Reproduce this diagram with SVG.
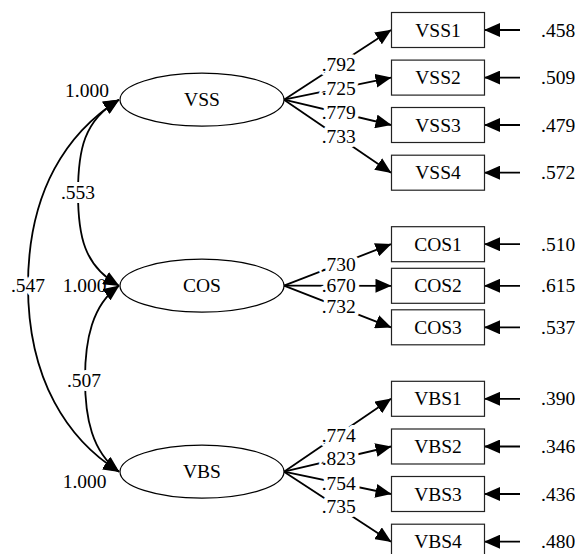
<svg xmlns="http://www.w3.org/2000/svg" width="575" height="554" viewBox="0 0 575 554" font-family="'Liberation Serif', 'Times New Roman', 'DejaVu Serif', serif" font-size="19.5">
<style>
text{font-family:'Liberation Serif','Times New Roman','DejaVu Serif',serif;font-size:19.5px;fill:#000}
.lat{fill:#fff;stroke:#000;stroke-width:1.2}
.obs{fill:#fff;stroke:#222;stroke-width:1.2}
.c{fill:none;stroke:#000;stroke-width:1.8}
.a{marker-end:url(#ah)}
.b{marker-start:url(#ah);marker-end:url(#ah)}
.lab{stroke:#fff;stroke-width:8;stroke-linejoin:round;paint-order:stroke}
.m{text-anchor:middle}
</style>
<defs>
<marker id="ah" viewBox="0 0 16 14" refX="15.5" refY="7" markerWidth="16" markerHeight="14" markerUnits="userSpaceOnUse" orient="auto-start-reverse">
<path d="M0,0 L16,7 L0,14 Z" fill="#000"/>
</marker>
</defs>
<g id="variances">
<text x="65" y="97">1.000</text>
<text x="62.7" y="292.3">1.000</text>
<text x="62.7" y="488.3">1.000</text>
</g>
<g id="connectors">
<path class="c b" d="M119,99.7 C84,120 78,150 78,192.7 C78,236 84,266 119,285.7"/>
<path class="c b" d="M119,99.7 C68,132 28,190 28,285.7 C28,380 68,440 119,471.7"/>
<path class="c b" d="M119,285.7 C92,305 85,340 85,378.7 C85,418 92,452 119,471.7"/>
<line class="c a" x1="284" y1="99.7" x2="391" y2="30"/>
<line class="c a" x1="284" y1="99.7" x2="391" y2="77.6"/>
<line class="c a" x1="284" y1="99.7" x2="391" y2="125"/>
<line class="c a" x1="284" y1="99.7" x2="391" y2="172.7"/>
<line class="c a" x1="284" y1="285.7" x2="391" y2="244.2"/>
<line class="c a" x1="284" y1="285.7" x2="391" y2="285.8"/>
<line class="c a" x1="284" y1="285.7" x2="391" y2="327.3"/>
<line class="c a" x1="284" y1="471.7" x2="391" y2="398.8"/>
<line class="c a" x1="284" y1="471.7" x2="391" y2="446.5"/>
<line class="c a" x1="284" y1="471.7" x2="391" y2="494"/>
<line class="c a" x1="284" y1="471.7" x2="391" y2="541.7"/>
<line class="c a" x1="520" y1="30" x2="484.5" y2="30"/>
<line class="c a" x1="520" y1="77.6" x2="484.5" y2="77.6"/>
<line class="c a" x1="520" y1="125" x2="484.5" y2="125"/>
<line class="c a" x1="520" y1="172.7" x2="484.5" y2="172.7"/>
<line class="c a" x1="520" y1="244.2" x2="484.5" y2="244.2"/>
<line class="c a" x1="520" y1="285.8" x2="484.5" y2="285.8"/>
<line class="c a" x1="520" y1="327.3" x2="484.5" y2="327.3"/>
<line class="c a" x1="520" y1="398.8" x2="484.5" y2="398.8"/>
<line class="c a" x1="520" y1="446.5" x2="484.5" y2="446.5"/>
<line class="c a" x1="520" y1="494" x2="484.5" y2="494"/>
<line class="c a" x1="520" y1="541.7" x2="484.5" y2="541.7"/>
<g id="connector-labels">
<text class="lab m" x="78" y="199">.553</text>
<text class="lab m" x="28" y="292">.547</text>
<text class="lab m" x="84" y="386.7">.507</text>
<text class="lab" x="321.7" y="71">.792</text>
<text class="lab" x="321.7" y="95">.725</text>
<text class="lab" x="321.7" y="119">.779</text>
<text class="lab" x="321.7" y="142.7">.733</text>
<text class="lab" x="321.7" y="270.7">.730</text>
<text class="lab" x="321.7" y="292.3">.670</text>
<text class="lab" x="321.7" y="313.3">.732</text>
<text class="lab" x="321.7" y="441.7">.774</text>
<text class="lab" x="321.7" y="465">.823</text>
<text class="lab" x="321.7" y="490">.754</text>
<text class="lab" x="321.7" y="513.3">.735</text>
</g>
</g>
<g id="VSS"><ellipse class="lat" cx="202" cy="99.7" rx="82" ry="26.5"/><text class="m" x="202" y="106.3">VSS</text></g>
<g id="COS"><ellipse class="lat" cx="202" cy="285.7" rx="82" ry="26.5"/><text class="m" x="202" y="292.3">COS</text></g>
<g id="VBS"><ellipse class="lat" cx="202" cy="471.7" rx="82" ry="26.5"/><text class="m" x="202" y="478.3">VBS</text></g>
<g id="VSS1"><rect class="obs" x="391.5" y="12.5" width="93" height="35"/><text class="m" x="438" y="36.5">VSS1</text></g>
<g id="VSS2"><rect class="obs" x="391.5" y="60.1" width="93" height="35"/><text class="m" x="438" y="84.1">VSS2</text></g>
<g id="VSS3"><rect class="obs" x="391.5" y="107.5" width="93" height="35"/><text class="m" x="438" y="131.5">VSS3</text></g>
<g id="VSS4"><rect class="obs" x="391.5" y="155.2" width="93" height="35"/><text class="m" x="438" y="179.2">VSS4</text></g>
<g id="COS1"><rect class="obs" x="391.5" y="226.7" width="93" height="35"/><text class="m" x="438" y="250.7">COS1</text></g>
<g id="COS2"><rect class="obs" x="391.5" y="268.3" width="93" height="35"/><text class="m" x="438" y="292.3">COS2</text></g>
<g id="COS3"><rect class="obs" x="391.5" y="309.8" width="93" height="35"/><text class="m" x="438" y="333.8">COS3</text></g>
<g id="VBS1"><rect class="obs" x="391.5" y="381.3" width="93" height="35"/><text class="m" x="438" y="405.3">VBS1</text></g>
<g id="VBS2"><rect class="obs" x="391.5" y="429" width="93" height="35"/><text class="m" x="438" y="453">VBS2</text></g>
<g id="VBS3"><rect class="obs" x="391.5" y="476.5" width="93" height="35"/><text class="m" x="438" y="500.5">VBS3</text></g>
<g id="VBS4"><rect class="obs" x="391.5" y="524.2" width="93" height="35"/><text class="m" x="438" y="548.2">VBS4</text></g>
<g id="errors">
<text x="541" y="36.5">.458</text>
<text x="541" y="84.1">.509</text>
<text x="541" y="131.5">.479</text>
<text x="541" y="179.2">.572</text>
<text x="541" y="250.7">.510</text>
<text x="541" y="292.3">.615</text>
<text x="541" y="333.8">.537</text>
<text x="541" y="405.3">.390</text>
<text x="541" y="453">.346</text>
<text x="541" y="500.5">.436</text>
<text x="541" y="548.2">.480</text>
</g>
</svg>
